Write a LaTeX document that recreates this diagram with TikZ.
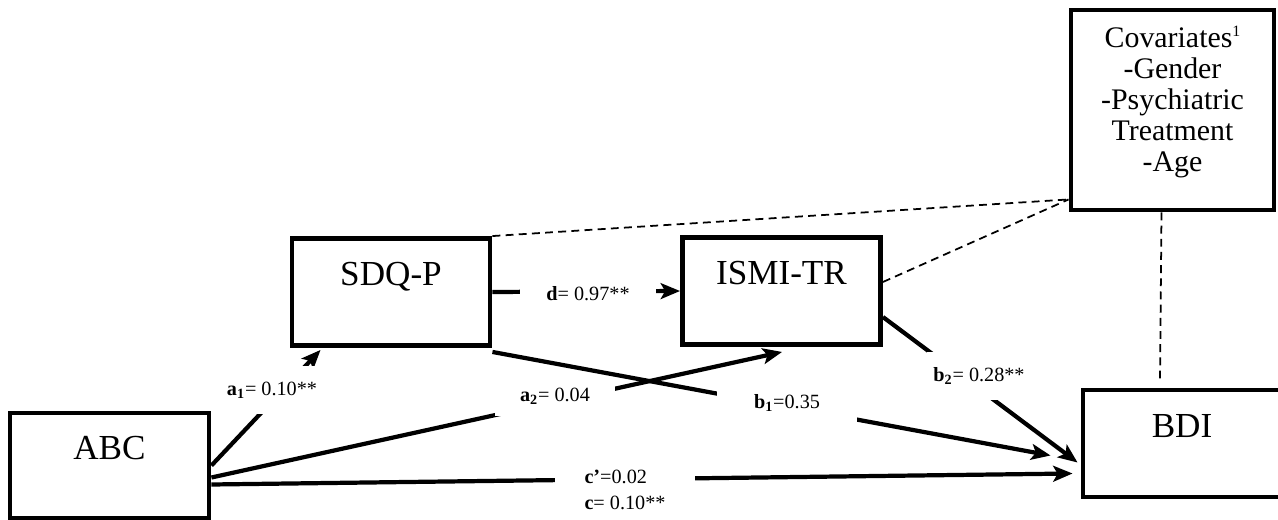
\documentclass[tikz,border=0pt]{standalone}
\usepackage{fontspec}
\setmainfont{Liberation Serif}
\usetikzlibrary{calc,arrows.meta}

\begin{document}
\begin{tikzpicture}[x=0.02cm, y=-0.02cm,
    box/.style={draw, line width=2.8pt, fill=white, inner sep=0pt},
    title/.style={box, minimum width=3.96cm, minimum height=2.14cm,
      font=\fontsize{20}{24}\selectfont, text height=14pt, text depth=21pt},
    coef/.style={fill=white, inner sep=0pt, align=left,
      font=\fontsize{11.5}{14.5}\selectfont},
    effect/.style={line width=2.4pt, -{Stealth[length=11pt, width=9pt, inset=2.5pt]}},
    covary/.style={line width=1pt, dash pattern=on 4.5pt off 3pt}]
    \useasboundingbox (0,0) rectangle (1278,520);

    % Draw boxes
    \node[title, minimum width=3.98cm, minimum height=2.1cm] (abc) at (109.5,465.5) {ABC};
    \node[title] (sdq) at (391,292) {SDQ-P};
    \node[title] (ismi) at (781.5,291) {ISMI-TR};
    \node[title] (bdi) at (1182,443.5) {BDI};
    \node[box, minimum width=4.06cm, minimum height=4cm, align=center,
      font=\fontsize{17}{17.6}\selectfont] (cov) at (1172.5,110)
      {Covariates\raisebox{6pt}{\fontsize{9}{9}\selectfont 1}\\-Gender\\-Psychiatric\\Treatment\\-Age\rule[-0.45cm]{0pt}{0pt}};

    % Draw covariate links
    \coordinate (covin) at ($(cov.south west)+(0,-13)$);
    \draw[covary] (sdq.north east) -- (covin);
    \draw[covary] ($(ismi.east)+(0,-9)$) -- (covin);
    \draw[covary] ($(cov.south)+(-11,0)$) -- ($(bdi.north)+(-22,-6)$);

    % Draw paths from ABC
    \draw[effect] (abc.east) -- ($(sdq.south west)+(31,2)$);
    \draw[effect] ($(abc.east)+(0,12)$) -- ($(ismi.south west)+(102,5)$);
    \node[coef, minimum width=2.2cm, minimum height=0.96cm] (a1) at (272,390) {\textbf{a\textsubscript{1}}= 0.10**};
    \node[coef, minimum width=2.4cm, minimum height=0.8cm] (a2) at (555,396) {\textbf{a\textsubscript{2}}= 0.04};
    \draw[effect] ($(abc.east)+(0,19)$) -- ($(bdi.west)+(-8,30)$);
    \node[coef, minimum width=2.8cm, minimum height=1cm] (c) at (625,490) {\textbf{c’}=0.02\\\textbf{c}= 0.10**};

    % Draw paths to BDI
    \draw[effect] (sdq.east) -- (ismi.west);
    \node[coef, minimum width=2.74cm, minimum height=0.68cm] (d) at (588,294) {\textbf{d}= 0.97**};
    \draw[effect] ($(sdq.south east)+(0,4)$) -- ($(bdi.west)+(-30,12)$);
    \node[coef, minimum width=2.8cm, minimum height=0.88cm] (b1) at (787,403) {\textbf{b\textsubscript{1}}=0.35};
    \draw[effect] ($(ismi.east)+(0,26)$) -- ($(bdi.west)+(-3,19)$);
    \node[coef, minimum width=2.1cm, minimum height=0.96cm] (b2) at (979,376) {\textbf{b\textsubscript{2}}= 0.28**};

\end{tikzpicture}
\end{document}
